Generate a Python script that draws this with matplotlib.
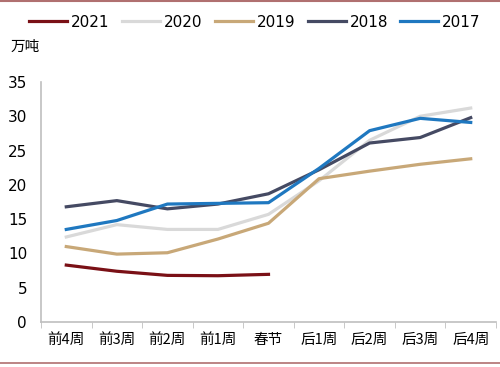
import matplotlib.pyplot as plt
from matplotlib.lines import Line2D

plt.rcParams['font.family'] = ['DejaVu Sans', 'Noto Sans CJK SC']

weeks = ['前4周', '前3周', '前2周', '前1周', '春节', '后1周', '后2周', '后3周', '后4周']
y2021 = [8.3, 7.4, 6.8, 6.75, 6.95]
y2020 = [12.4, 14.2, 13.5, 13.5, 15.7, 20.6, 26.5, 30.0, 31.2]
y2019 = [11.0, 9.9, 10.1, 12.1, 14.4, 20.9, 22.0, 23.0, 23.8]
y2018 = [16.8, 17.7, 16.5, 17.2, 18.7, 22.2, 26.1, 26.9, 29.8]
y2017 = [13.5, 14.8, 17.2, 17.3, 17.4, 22.4, 27.9, 29.7, 29.1]

series = [('2021', y2021, '#7a1016'),
          ('2020', y2020, '#d9d9d9'),
          ('2019', y2019, '#c8a878'),
          ('2018', y2018, '#454a63'),
          ('2017', y2017, '#1f78c0')]

fig = plt.figure(figsize=(5, 3.67), dpi=100)
ax = fig.add_axes([0.082, 0.1226, 0.91, 0.654])

x = list(range(len(weeks)))
for name, vals, color in series:
    ax.plot(x[:len(vals)], vals, color=color, lw=2.3, label=name)

ax.set_xlim(-0.5, len(weeks) - 0.5)
ax.set_ylim(0, 35)
ax.set_yticks(range(0, 36, 5))
ax.tick_params(axis='y', length=0, labelsize=11, pad=10)
ax.set_xticks(x)
ax.set_xticklabels(weeks, family=['Noto Sans CJK SC'], fontsize=10.5)
ax.tick_params(axis='x', length=0, pad=8)
# boundary ticks between categories
ax.set_xticks([i - 0.5 for i in range(len(weeks) + 1)], minor=True)
ax.tick_params(axis='x', which='minor', length=4, color='#bfbfbf', direction='out')

for s in ['top', 'right']:
    ax.spines[s].set_visible(False)
for s in ['left', 'bottom']:
    ax.spines[s].set_color('#bfbfbf')
    ax.spines[s].set_linewidth(1.2)

fig.legend(loc='center', bbox_to_anchor=(0.51, 0.94), ncol=5, frameon=False,
           fontsize=11, handlelength=2.5, handletextpad=0.25, columnspacing=0.8,
           borderpad=0, borderaxespad=0)

fig.text(0.022, 0.872, '万吨', family=['Noto Sans CJK SC'], fontsize=10.5, va='center')

fig.add_artist(Line2D([0, 1], [0.998, 0.998], transform=fig.transFigure, color='#b07070', lw=1.5))
fig.add_artist(Line2D([0, 1], [0.011, 0.011], transform=fig.transFigure, color='#b07070', lw=1.2))

fig.savefig('out.png', dpi=100)
